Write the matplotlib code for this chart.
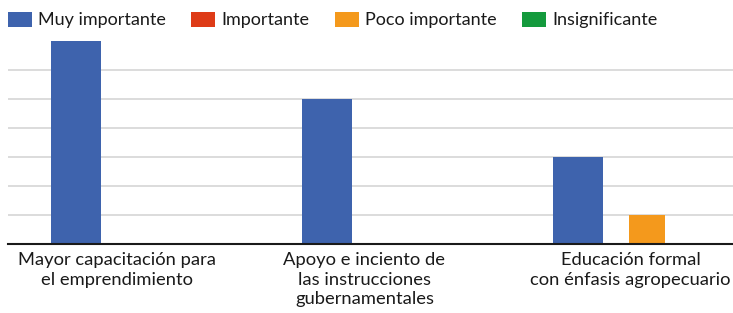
import matplotlib
matplotlib.use('Agg')

import matplotlib.pyplot as plt
from matplotlib.patches import Patch
import numpy as np

# datos
categorias = ["Mayor capacitación para\nel emprendimiento",
              "Apoyo e inciento de\nlas instrucciones\ngubernamentales",
              "Educación formal\ncon énfasis agropecuario"]
series = ["Muy importante", "Importante", "Poco importante", "Insignificante"]
muy_importante = [7, 5, 3]
importante = [0, 0, 0]
poco_importante = [0, 0, 1]
insignificante = [0, 0, 0]

valores = [muy_importante, importante, poco_importante, insignificante]
colores = ["#3e63ad", "#de3b17", "#f4991c", "#149a3d"]
desplaz = [-0.229, -0.09, 0.046, 0.18]
anchos = [0.2, 0.143, 0.143, 0.143]
pos_etiquetas = [-0.066, -0.08, -0.02]

plt.rcParams['font.family'] = ['Lato', 'DejaVu Sans']

fig = plt.figure(figsize=(7.33, 3.13), dpi=100)
ax = fig.add_axes([8 / 733, 69 / 313, 753 / 733, 203 / 313])

x = np.arange(len(categorias))
for vals, col, d, w in zip(valores, colores, desplaz, anchos):
    ax.bar(x + d, vals, width=w, color=col, zorder=3)

ax.set_xlim(-0.5, 2.5)
ax.set_ylim(0, 7)
ax.set_yticks(range(1, 7))
ax.yaxis.grid(True, color="#d9d9d9", linewidth=1.3, zorder=0)
ax.tick_params(axis='y', left=False, labelleft=False)
ax.tick_params(axis='x', bottom=False, pad=2, labelsize=13.2)
ax.set_xticks(x + np.array(pos_etiquetas))
ax.set_xticklabels(categorias, linespacing=1.3, color="#1a1a1a")

for s in ["top", "right", "left"]:
    ax.spines[s].set_visible(False)
ax.spines["bottom"].set_color("#1a1a1a")
ax.spines["bottom"].set_linewidth(1.5)
ax.spines["bottom"].set_zorder(4)

handles = [Patch(facecolor=c, edgecolor="none") for c in colores]
fig.legend(handles, series, loc="upper left", bbox_to_anchor=(4 / 733, 1 - 8 / 313),
           ncol=4, frameon=False, fontsize=13, handlelength=1.33,
           handleheight=0.9, handletextpad=0.33, columnspacing=1.42,
           borderaxespad=0, borderpad=0.2, labelcolor="#1a1a1a")

fig.savefig("out.png", dpi=100)
